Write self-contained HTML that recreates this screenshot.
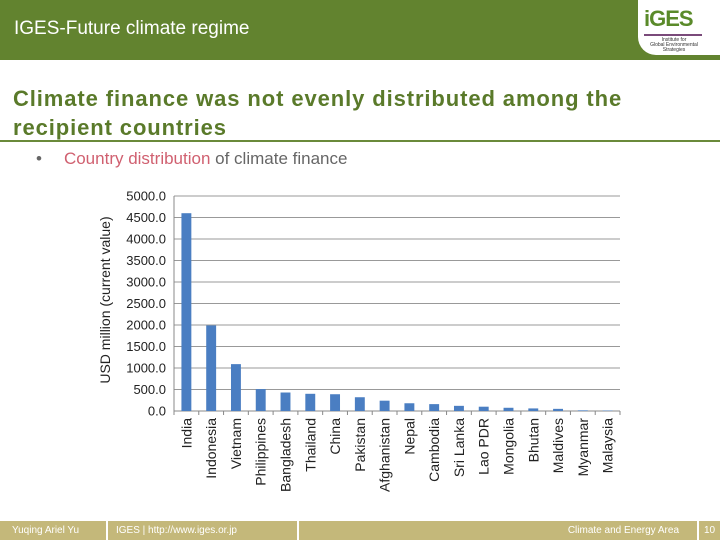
<!DOCTYPE html>
<html><head><meta charset="utf-8"><style>
body{margin:0;width:720px;height:540px;position:relative;background:#fff;font-family:"Liberation Sans",sans-serif;overflow:hidden}
.hdr{position:absolute;left:0;top:0;width:720px;height:60px;background:#62832f}
.hdr .t{position:absolute;left:14px;top:18px;color:#fff;font-size:19px}
.logo{position:absolute;left:638px;top:0;width:82px;height:55px;background:#fff;border-bottom-left-radius:18px}
.title{position:absolute;left:13px;top:84px;color:#5a7a2a;font-size:22px;font-weight:bold;line-height:29px;letter-spacing:0.9px}
.rule{position:absolute;left:0;top:140px;width:720px;height:2px;background:#6a8a3a}
.bul{position:absolute;left:36px;top:149px;font-size:17px;color:#666}
.foot{position:absolute;top:521px;height:19px;background:#c4b87a;color:#fff;font-size:10px;line-height:19px}
</style></head><body>
<div class="hdr"><div class="t">IGES-Future climate regime</div></div>
<div class="logo">
<div style="position:absolute;left:6px;top:6px;font-weight:bold;font-size:22px;color:#5a8a2a;letter-spacing:-1px">iGES</div>
<div style="position:absolute;left:6px;top:34px;width:58px;height:2px;background:#7a4a7a"></div>
<div style="position:absolute;left:4px;top:38px;font-size:5px;color:#333;width:64px;text-align:center;line-height:5px">Institute for<br>Global Environmental<br>Strategies</div>
</div>
<div class="title">Climate finance was not evenly distributed among the<br>recipient countries</div>
<div class="rule"></div>
<div class="bul">•<span style="margin-left:22px;color:#d06070">Country distribution</span> of climate finance</div>
<svg id="chart" width="720" height="540" style="position:absolute;left:0;top:0"></svg>
<div class="foot" style="left:0;width:106px"><span style="margin-left:12px">Yuqing Ariel Yu</span></div>
<div class="foot" style="left:108px;width:189px"><span style="margin-left:8px">IGES | http://www.iges.or.jp</span></div>
<div class="foot" style="left:299px;width:398px;text-align:right"><span style="margin-right:18px">Climate and Energy Area</span></div>
<div class="foot" style="left:699px;width:21px;text-align:center">10</div>
<script>
const categories=["India","Indonesia","Vietnam","Philippines","Bangladesh","Thailand","China","Pakistan","Afghanistan","Nepal","Cambodia","Sri Lanka","Lao PDR","Mongolia","Bhutan","Maldives","Myanmar","Malaysia"];
const values=[4600,1990,1090,510,430,400,390,320,240,180,160,120,100,75,60,50,15,10];
const ticks=[0,500,1000,1500,2000,2500,3000,3500,4000,4500,5000];
const svg=document.getElementById('chart');const NS='http://www.w3.org/2000/svg';
const x0=174,x1=620,y0=411,y1=196,maxV=5000;
const y=v=>y0-(v/maxV)*(y0-y1);const bw=(x1-x0)/categories.length;const x=i=>x0+i*bw;
function mk(t,a){const e=document.createElementNS(NS,t);for(const k in a)e.setAttribute(k,a[k]);svg.appendChild(e);return e;}
ticks.forEach(t=>{
const g=mk('line',{x1:x0,x2:x1,y1:y(t),y2:y(t),stroke:t===0?'#888':'#999','stroke-width':1});


const l=mk('text',{x:x0-8,y:y(t)+4.5,'text-anchor':'end','font-size':13,fill:'#222','font-family':'Liberation Sans, sans-serif'});l.textContent=t.toFixed(1);


});
const ax=mk('line',{x1:x0,x2:x0,y1:y1,y2:y0+4,stroke:'#888'});


categories.forEach((c,i)=>{
const tk=mk('line',{x1:x(i+1),x2:x(i+1),y1:y0,y2:y0+4,stroke:'#888'});


const b=mk('rect',{x:x(i)+bw*0.3,y:y(values[i]),width:bw*0.4,height:y0-y(values[i]),fill:'#4a7ec2'});


const cx=x(i)+bw/2+5;
const t=mk('text',{x:cx,y:418,transform:`rotate(-90 ${cx} 418)`,'text-anchor':'end','font-size':14,fill:'#222','font-family':'Liberation Sans, sans-serif'});t.textContent=c;


});
const yt=mk('text',{x:110,y:300,transform:'rotate(-90 110 300)','text-anchor':'middle','font-size':14,fill:'#222','font-family':'Liberation Sans, sans-serif'});yt.textContent='USD million (current value)';


</script>
</body></html>
